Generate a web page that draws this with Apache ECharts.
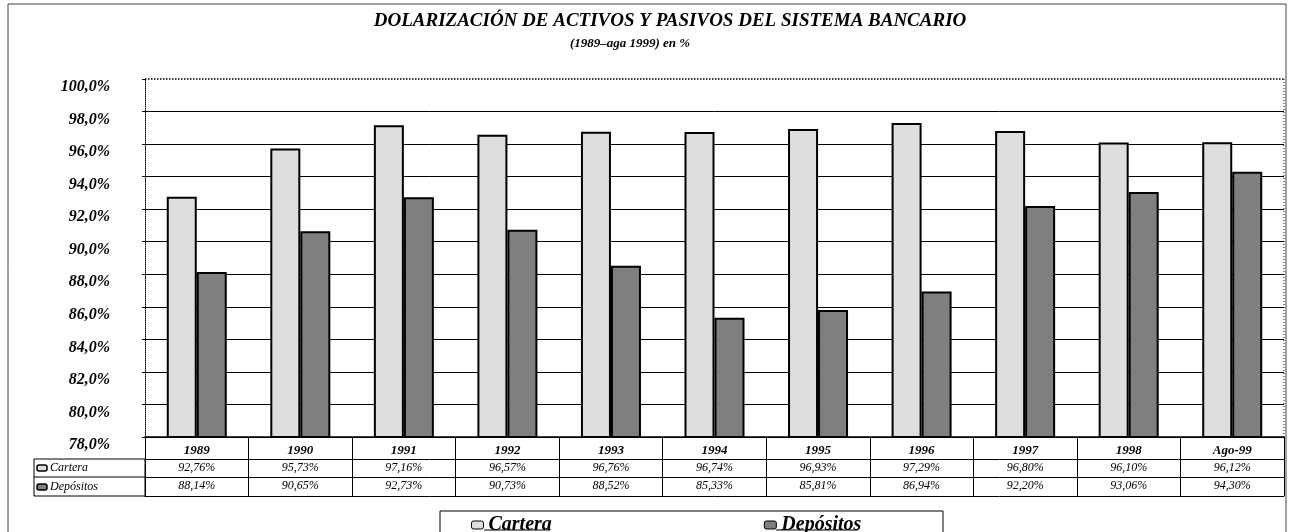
<!DOCTYPE html>
<html>
<head>
<meta charset="utf-8">
<script src="https://cdn.jsdelivr.net/npm/echarts@6/dist/echarts.min.js"></script>
<style>
html,body{margin:0;padding:0;background:#fff;}
#chart{width:1291px;height:532px;}
</style>
</head>
<body>
<div id="chart"></div>
<script>
const categories = ['1989','1990','1991','1992','1993','1994','1995','1996','1997','1998','Ago-99'];
const seriesNames = ['Cartera','Depósitos'];
const cartera = [92.76, 95.73, 97.16, 96.57, 96.76, 96.74, 96.93, 97.29, 96.80, 96.10, 96.12];
const depositos = [88.14, 90.65, 92.73, 90.73, 88.52, 85.33, 85.81, 86.94, 92.20, 93.06, 94.30];
const yMin = 78, yMax = 100, yStep = 2;
const titleText = 'DOLARIZACIÓN DE ACTIVOS Y PASIVOS DEL SISTEMA BANCARIO';
const subtitleText = '(1989–aga 1999) en %';

const FONT = '"Liberation Serif", "DejaVu Serif", serif';
const COL_CARTERA = '#dedede';
const COL_DEP = '#7f7f7f';
const fmtPct2 = v => v.toFixed(2).replace('.', ',') + '%';
const fmtPct1 = v => v.toFixed(1).replace('.', ',') + '%';

const nSplits = Math.round((yMax - yMin) / yStep) + 1;
const splitColors = [];
for (let i = 0; i < nSplits; i++) splitColors.push(i === nSplits - 1 ? 'rgba(0,0,0,0)' : '#000');

const chart = echarts.init(document.getElementById('chart'), null, {renderer: 'canvas'});

const valueAxisLabel = {
  fontFamily: FONT, fontStyle: 'italic', fontSize: 12, color: '#000', margin: 3, interval: 0
};

const option = {
  backgroundColor: '#fff',
  animation: false,
  title: [
    {text: titleText, left: 665, top: 7, textAlign: 'center',
     textStyle: {fontFamily: FONT, fontStyle: 'italic', fontWeight: 'bold', fontSize: 19, color: '#000'}},
    {text: subtitleText, left: 625, top: 32, textAlign: 'center',
     textStyle: {fontFamily: FONT, fontStyle: 'italic', fontWeight: 'bold', fontSize: 13, color: '#000'}}
  ],
  legend: {
    data: seriesNames,
    left: 466, top: 510,
    itemWidth: 12, itemHeight: 8, itemGap: 212,
    icon: 'roundRect',
    itemStyle: {borderWidth: 1, borderColor: '#000'},
    textStyle: {fontFamily: FONT, fontStyle: 'italic', fontWeight: 'bold', fontSize: 20, color: '#000', padding: [0,0,0,0]}
  },
  grid: {left: 145, right: 7, top: 79, bottom: 95, containLabel: false},
  xAxis: [
    {type: 'category', data: categories, position: 'bottom',
     axisLine: {lineStyle: {color: '#000', width: 1.5}},
     axisTick: {show: true, interval: 0, length: 59, lineStyle: {color: '#000', width: 1}},
     axisLabel: {interval: 0, margin: 7, fontFamily: FONT, fontStyle: 'italic', fontWeight: 'bold', fontSize: 13, color: '#000'},
     splitLine: {show: false}},
    {type: 'category', data: cartera.map(fmtPct2), position: 'bottom', offset: 22,
     axisLine: {lineStyle: {color: '#000', width: 1}}, axisTick: {show: false},
     axisLabel: valueAxisLabel, splitLine: {show: false}},
    {type: 'category', data: depositos.map(fmtPct2), position: 'bottom', offset: 40,
     axisLine: {lineStyle: {color: '#000', width: 1}}, axisTick: {show: false},
     axisLabel: valueAxisLabel, splitLine: {show: false}},
    {type: 'category', data: categories, position: 'bottom', offset: 59,
     axisLine: {lineStyle: {color: '#000', width: 1}}, axisTick: {show: false},
     axisLabel: {show: false}, splitLine: {show: false}}
  ],
  yAxis: {
    type: 'value', min: yMin, max: yMax, interval: yStep,
    axisLine: {show: true, lineStyle: {color: '#000', width: 1, type: 'dotted'}},
    axisTick: {show: true, length: 3, lineStyle: {color: '#000'}},
    axisLabel: {formatter: fmtPct1, margin: 35, verticalAlign: 'top',
      fontFamily: FONT, fontStyle: 'italic', fontWeight: 'bold', fontSize: 16, color: '#000'},
    splitLine: {show: true, lineStyle: {color: splitColors, width: 1}}
  },
  series: [
    {name: seriesNames[0], type: 'bar', data: cartera, barWidth: 30, barGap: '0%',
     itemStyle: {color: COL_CARTERA, borderColor: '#000', borderWidth: 2},
     markLine: {silent: true, symbol: 'none', label: {show: false},
       lineStyle: {color: '#000', type: 'dotted', width: 1.5},
       data: [{yAxis: yMax}]}},
    {name: seriesNames[1], type: 'bar', data: depositos, barWidth: 30,
     itemStyle: {color: COL_DEP, borderColor: '#000', borderWidth: 2}}
  ],
  graphic: [
    {type: 'rect', shape: {x: 8, y: 4, width: 1278, height: 560}, style: {fill: 'none', stroke: '#444', lineWidth: 1}, silent: true},
    {type: 'line', shape: {x1: 1284, y1: 79, x2: 1284, y2: 437}, style: {stroke: '#000', lineWidth: 1, lineDash: [1, 2]}, silent: true},
    {type: 'rect', shape: {x: 34, y: 459, width: 111, height: 37}, style: {fill: 'none', stroke: '#000', lineWidth: 1}, silent: true},
    {type: 'line', shape: {x1: 34, y1: 477, x2: 145, y2: 477}, style: {stroke: '#000', lineWidth: 1}, silent: true},
    {type: 'rect', shape: {x: 37, y: 465, width: 10, height: 6, r: 2}, style: {fill: COL_CARTERA, stroke: '#000', lineWidth: 1.5}, silent: true},
    {type: 'rect', shape: {x: 37, y: 484, width: 10, height: 6, r: 2}, style: {fill: COL_DEP, stroke: '#000', lineWidth: 1.5}, silent: true},
    {type: 'text', x: 50, y: 468, style: {text: seriesNames[0], fontFamily: FONT, fontStyle: 'italic', fontSize: 12, fill: '#000', textVerticalAlign: 'middle'}, silent: true},
    {type: 'text', x: 50, y: 487, style: {text: seriesNames[1], fontFamily: FONT, fontStyle: 'italic', fontSize: 12, fill: '#000', textVerticalAlign: 'middle'}, silent: true},
    {type: 'rect', shape: {x: 440, y: 511, width: 503, height: 40}, style: {fill: 'none', stroke: '#000', lineWidth: 1}, silent: true, z: -1},
    {type: 'line', shape: {x1: 484, y1: 530, x2: 550, y2: 530}, style: {stroke: '#000', lineWidth: 1.2}, silent: true},
    {type: 'line', shape: {x1: 776, y1: 530, x2: 858, y2: 530}, style: {stroke: '#000', lineWidth: 1.2}, silent: true}
  ]
};
chart.setOption(option);
</script>
</body>
</html>
